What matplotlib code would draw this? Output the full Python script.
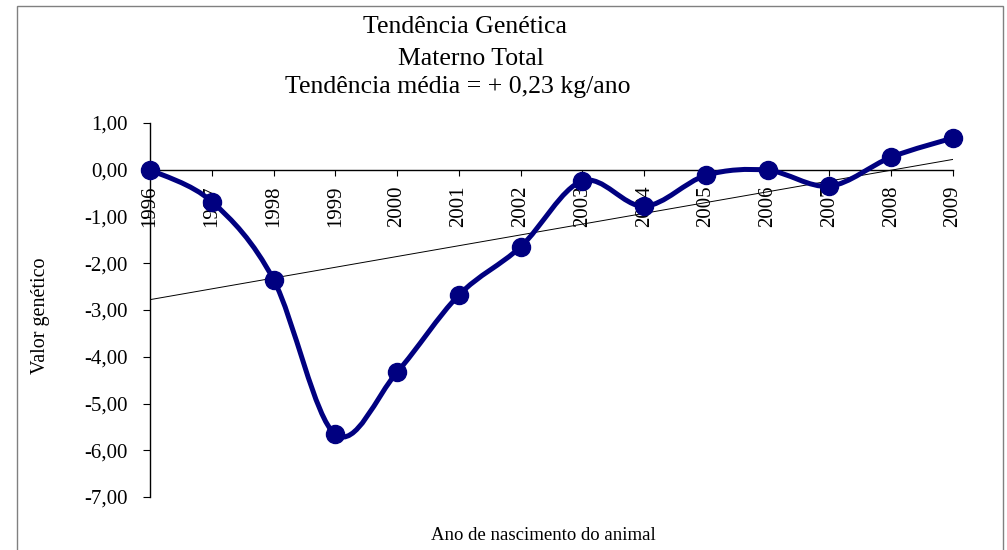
# Tendência genética - Materno Total (gráfico de linha suavizada com tendência linear)

import numpy as np
import matplotlib.pyplot as plt
from matplotlib.path import Path
from matplotlib.patches import PathPatch, Rectangle
from matplotlib.ticker import FuncFormatter, MultipleLocator

# --- dados ---
anos = ['1996', '1997', '1998', '1999', '2000', '2001', '2002',
        '2003', '2004', '2005', '2006', '2007', '2008', '2009']
valor_genetico = [0.00, -0.68, -2.35, -5.66, -4.33, -2.68, -1.65,
                  -0.24, -0.78, -0.12, -0.01, -0.35, 0.27, 0.68]

titulo = ['Tendência Genética', 'Materno Total', 'Tendência média = + 0,23 kg/ano']

plt.rcParams['font.family'] = ['Liberation Serif', 'DejaVu Serif']

x = np.arange(len(anos))
y = np.array(valor_genetico)

fig = plt.figure(figsize=(10.07, 5.5), dpi=100)
ax = fig.add_axes([150 / 1007, 1 - 497 / 550, 803 / 1007, 374 / 550])

# curva suavizada (estilo Excel): Catmull-Rom convertido em Bezier cubica
pts = np.column_stack([x, y])
verts = [pts[0]]
codes = [Path.MOVETO]
for i in range(len(pts) - 1):
    p0 = pts[max(i - 1, 0)]
    p1 = pts[i]
    p2 = pts[i + 1]
    p3 = pts[min(i + 2, len(pts) - 1)]
    c1 = p1 + (p2 - p0) / 6
    c2 = p2 - (p3 - p1) / 6
    verts += [c1, c2, p2]
    codes += [Path.CURVE4] * 3
curva = PathPatch(Path(verts, codes), facecolor='none', edgecolor='#000080',
                  lw=3.6, capstyle='round', joinstyle='round', zorder=3)
ax.add_patch(curva)
ax.plot(x, y, 'o', color='#000080', markersize=13, zorder=4, clip_on=False)

# linha de tendencia
coef = np.polyfit(x, y, 1)
ax.plot(x, np.polyval(coef, x), color='black', lw=0.7, zorder=2)

ax.set_xlim(0, len(anos) - 1)
ax.set_ylim(-7, 1)
ax.yaxis.set_major_locator(MultipleLocator(1))
ax.yaxis.set_major_formatter(FuncFormatter(lambda v, p: f'{v:.2f}'.replace('.', ',')))
ax.set_xticks(x)
ax.set_xticklabels(anos)

ax.spines['top'].set_visible(False)
ax.spines['right'].set_visible(False)
ax.spines['bottom'].set_position(('data', 0))
ax.spines['left'].set_linewidth(1)
ax.spines['bottom'].set_linewidth(1)
ax.tick_params(axis='x', direction='out', length=4, pad=7, labelsize=15,
               labelrotation=90)
ax.tick_params(axis='y', direction='out', length=5, pad=11, labelsize=15)
for lbl in ax.get_xticklabels():
    lbl.set_va('top')
    lbl.set_ha('center')

# titulo em tres linhas
for linha, xpix, ypix in zip(titulo, [465, 471, 458], [33, 65, 93]):
    fig.text(xpix / 1007, 1 - ypix / 550, linha, ha='center', va='baseline',
             fontsize=18.5)

fig.text(40 / 1007, 1 - 316 / 550, 'Valor genético', rotation=90,
         ha='center', va='center', fontsize=14.5)
fig.text(543 / 1007, 1 - 536 / 550, 'Ano de nascimento do animal',
         ha='center', va='center', fontsize=13.5)

# borda da area do grafico
fig.patches.append(Rectangle((17 / 1007, -0.05), 986 / 1007, 1.05 - 6 / 550,
                             transform=fig.transFigure, fill=False,
                             edgecolor='#808080', lw=1))

plt.savefig('out.png', dpi=100)
